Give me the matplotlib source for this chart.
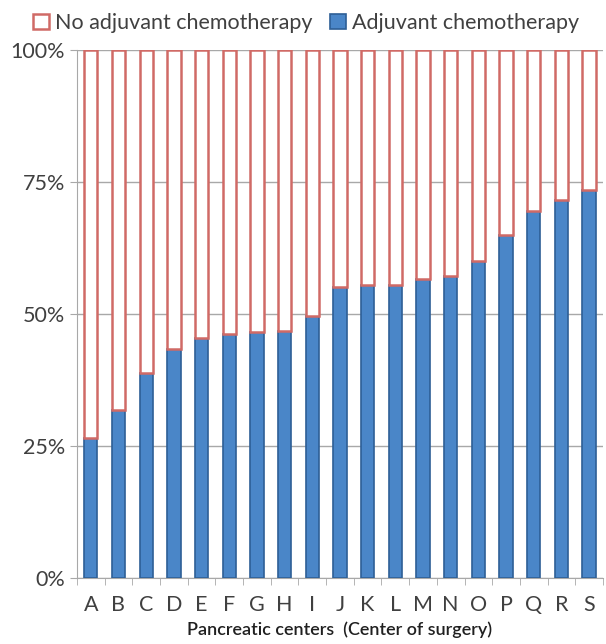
import numpy as np
import matplotlib
matplotlib.use("Agg")
import matplotlib.pyplot as plt
from matplotlib.ticker import FixedLocator, PercentFormatter

plt.rcParams['font.family'] = ['Lato', 'DejaVu Sans']

# share of patients per centre receiving adjuvant chemotherapy (%)
centers = list("ABCDEFGHIJKLMNOPQRS")
adjuvant = [26.5, 31.8, 38.8, 43.3, 45.5, 46.2, 46.5, 46.8, 49.6,
            55.1, 55.4, 55.4, 56.6, 57.2, 60.0, 65.0, 69.5, 71.6, 73.5]
no_adjuvant = [100 - v for v in adjuvant]

fig = plt.figure(figsize=(6.06, 6.44), dpi=100)
ax = fig.add_axes([0.127, 0.1025, 0.868, 0.82])

x = np.arange(len(centers))
w = 0.48
ax.bar(x, adjuvant, w, color='#4a86c8', edgecolor='#2e5f96', linewidth=1.2,
       label='Adjuvant chemotherapy', zorder=3)
ax.bar(x, no_adjuvant, w, bottom=adjuvant, color='white', edgecolor='#d06a66',
       linewidth=1.8, label='No adjuvant chemotherapy', zorder=3)

ax.set_xlim(-0.5, len(centers) - 0.5)
ax.set_ylim(0, 100)
ax.set_yticks([0, 25, 50, 75, 100])
ax.yaxis.set_major_formatter(PercentFormatter(decimals=0))
ax.yaxis.grid(True, color='#a8a8a8', linewidth=1.0, zorder=0)
ax.set_xticks(x)
ax.set_xticklabels(centers)
ax.xaxis.set_minor_locator(FixedLocator(np.arange(-0.5, len(centers), 1)))
ax.tick_params(axis='x', which='major', length=0, pad=12, labelsize=15.5, colors='#404040')
ax.tick_params(axis='x', which='minor', length=5, color='#a8a8a8')
ax.tick_params(axis='y', length=5, color='#a8a8a8', labelsize=15.5, labelcolor='#404040')

for s in ['top', 'right']:
    ax.spines[s].set_visible(False)
for s in ['left', 'bottom']:
    ax.spines[s].set_color('#a8a8a8')

ax.set_xlabel('Pancreatic centers  (Center of surgery)', fontsize=13,
              fontweight='semibold', color='#202020', labelpad=5)

handles, labels = ax.get_legend_handles_labels()
fig.legend(handles[::-1], labels[::-1], loc='upper center', ncol=2,
           bbox_to_anchor=(0.505, 1.01), frameon=False, fontsize=15.5,
           handlelength=0.75, handleheight=0.75, handletextpad=0.3,
           columnspacing=0.8, labelcolor='#404040')

fig.savefig('out.png', dpi=100)
